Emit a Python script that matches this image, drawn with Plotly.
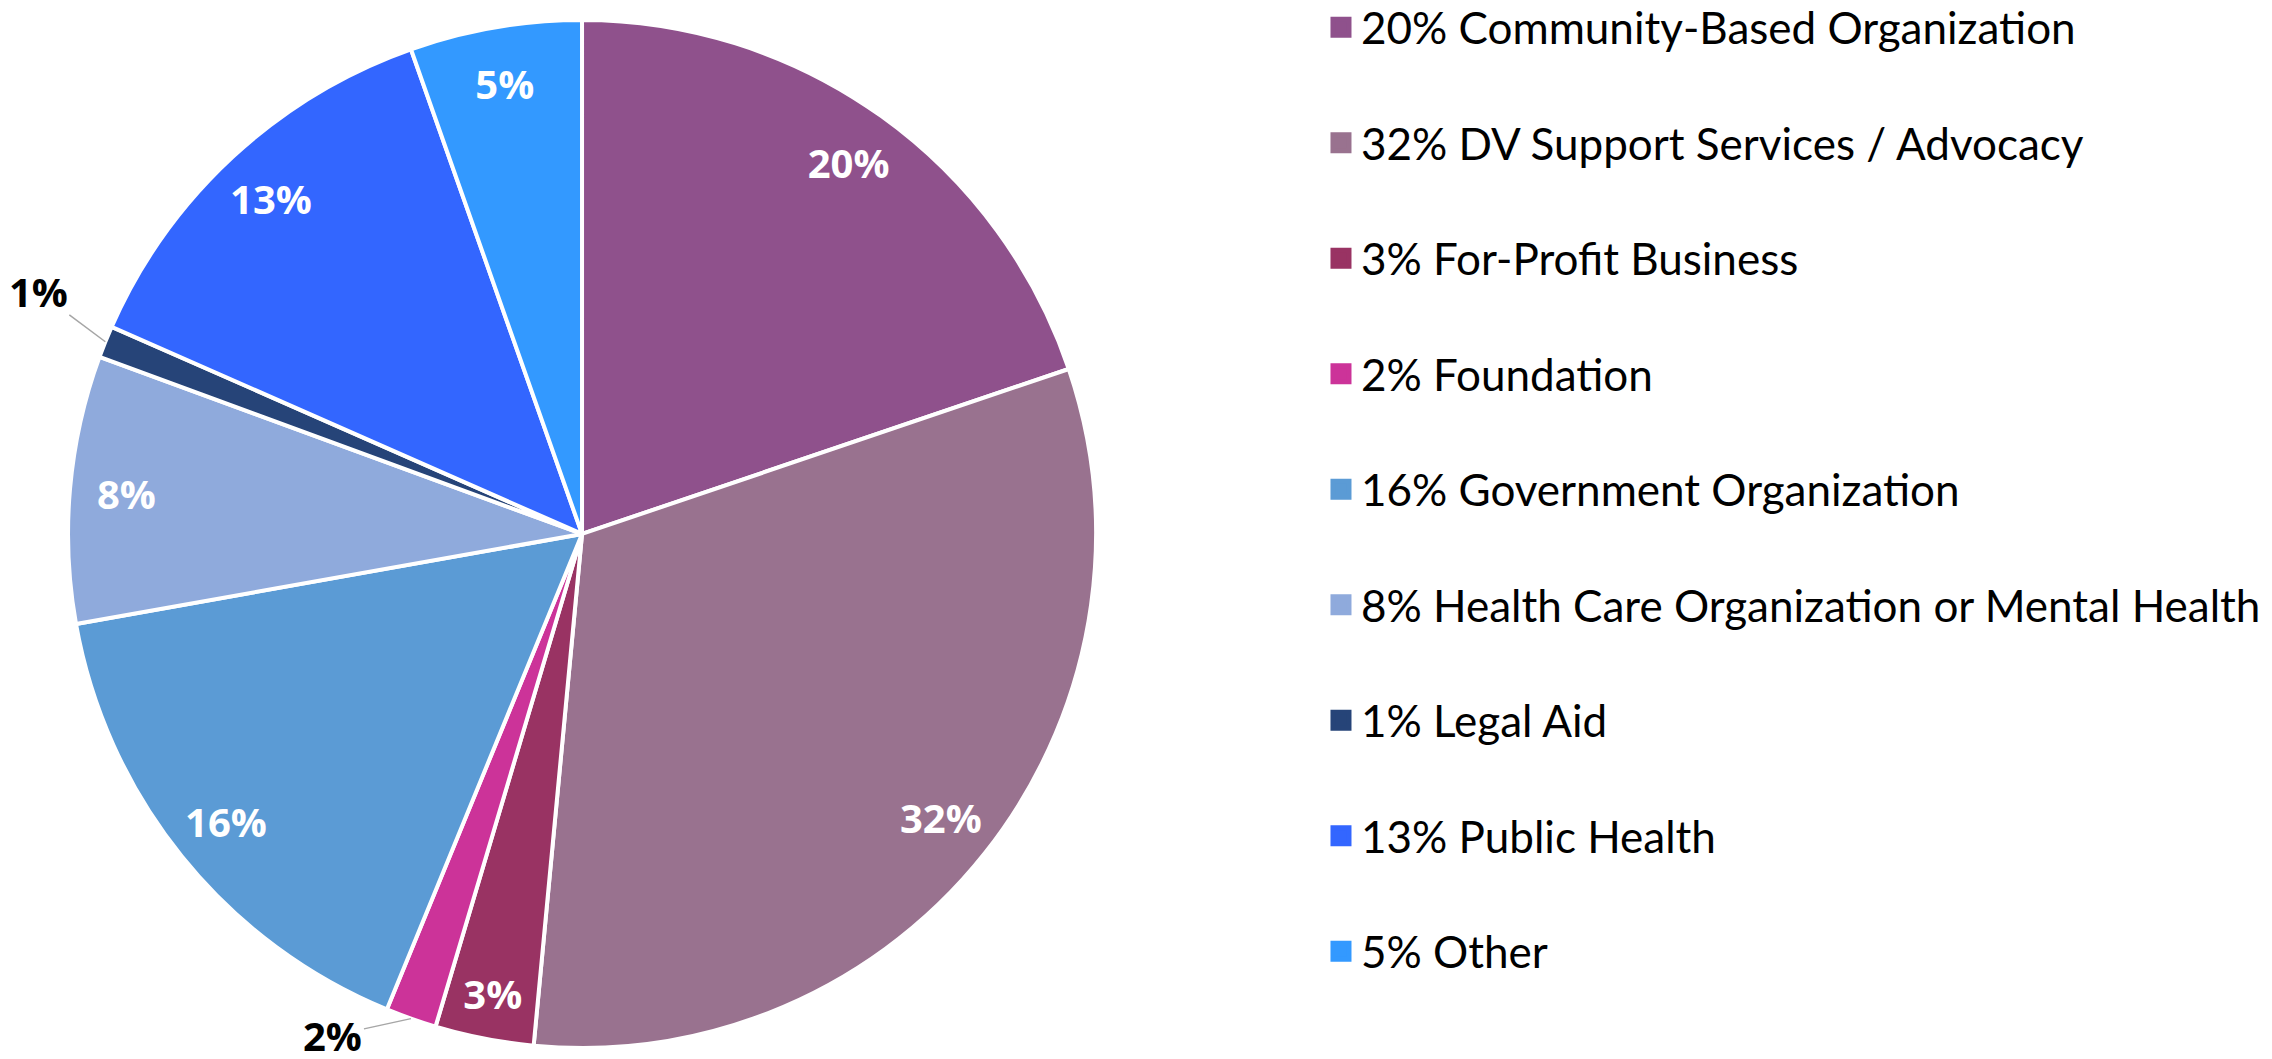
import math
import plotly.graph_objects as go

# ---- data ----
categories = [
    "Community-Based Organization",
    "DV Support Services / Advocacy",
    "For-Profit Business",
    "Foundation",
    "Government Organization",
    "Health Care Organization or Mental Health",
    "Legal Aid",
    "Public Health",
    "Other",
]
pct_labels = ["20%", "32%", "3%", "2%", "16%", "8%", "1%", "13%", "5%"]
shares = [19.8, 31.7, 3.1, 1.6, 16.0, 8.4, 1.0, 13.0, 5.4]
colors = ["#8F518C", "#99728F", "#993363", "#CC3399", "#5B9BD5",
          "#8FAADC", "#264478", "#3366FF", "#3399FF"]
# slices whose label sits outside with a leader line
outside_labels = {"Foundation": (-78, 17), "Legal Aid": (-67, -50)}

legend_names = [f"{p} {c}" for p, c in zip(pct_labels, categories)]

W, H = 2272, 1059
dom_x = [0.0264, 0.4789]
dom_y = [0.0180, 0.9887]

text_pos = ["none" if c in outside_labels else "inside" for c in categories]

fig = go.Figure()

# base pie: visible slices
fig.add_trace(go.Pie(
    labels=categories, values=shares, sort=False, direction="clockwise",
    rotation=0, marker=dict(colors=colors, line=dict(color="white", width=4)),
    textinfo="none", showlegend=False, hoverinfo="skip",
    domain=dict(x=dom_x, y=dom_y),
))

# overlay ring: carries the percent labels near the outer edge
fig.add_trace(go.Pie(
    labels=categories, values=shares, sort=False, direction="clockwise",
    rotation=0, hole=0.78,
    marker=dict(colors=["rgba(0,0,0,0)"] * len(shares), line=dict(width=0)),
    text=pct_labels, texttemplate="%{text}", textposition=text_pos,
    insidetextorientation="horizontal",
    insidetextfont=dict(family="Open Sans", size=40, color="white", weight="bold"),
    showlegend=False, hoverinfo="label+percent",
    domain=dict(x=dom_x, y=dom_y),
))

# outside labels with leader lines, anchored on the slice mid-angle at the rim
total = sum(shares)
cx_px = W * (dom_x[0] + dom_x[1]) / 2
cy_px = H * (1 - (dom_y[0] + dom_y[1]) / 2)
r_px = min(W * (dom_x[1] - dom_x[0]), H * (dom_y[1] - dom_y[0])) / 2
cum = 0.0
for cat, val, lab in zip(categories, shares, pct_labels):
    mid = (cum + val / 2) / total * 2 * math.pi
    cum += val
    if cat not in outside_labels:
        continue
    px = cx_px + r_px * math.sin(mid)
    py = cy_px - r_px * math.cos(mid)
    ax, ay = outside_labels[cat]
    fig.add_annotation(
        x=px / W, y=1 - py / H, xref="paper", yref="paper",
        text=lab, showarrow=True, arrowhead=0, arrowwidth=1.5,
        arrowcolor="#A6A6A6", ax=ax, ay=ay, standoff=0,
        font=dict(family="Open Sans", size=40, color="black", weight="bold"),
    )

# legend entries
for name, col in zip(legend_names, colors):
    fig.add_trace(go.Scatter(
        x=[None], y=[None], mode="markers", name=name,
        marker=dict(symbol="square", size=16, color=col,
                    line=dict(color=col, width=5)),
        legendgroup=name, showlegend=True,
    ))

fig.update_layout(
    width=W, height=H,
    margin=dict(l=0, r=0, t=0, b=0, autoexpand=False),
    paper_bgcolor="white", plot_bgcolor="white",
    xaxis=dict(visible=False), yaxis=dict(visible=False),
    legend=dict(
        x=0.5779, y=1.015, xanchor="left", yanchor="top",
        font=dict(family="Lato", size=44, color="black"),
        tracegroupgap=55.3, itemsizing="trace", maxheight=1400,
        bgcolor="rgba(0,0,0,0)",
    ),
)

fig.write_html("out.html")
